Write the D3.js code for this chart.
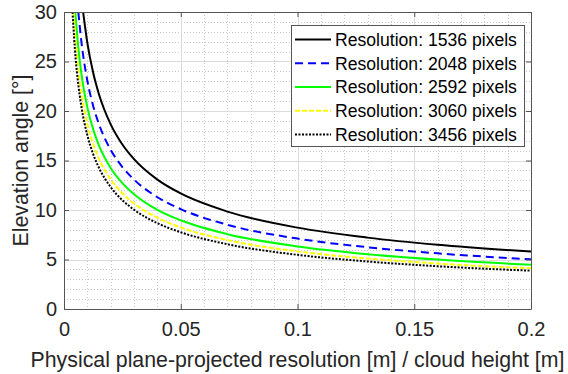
<!DOCTYPE html>
<html>
<head>
<meta charset="utf-8">
<script src="https://cdn.jsdelivr.net/npm/d3@7"></script>
<style>
  html, body { margin: 0; padding: 0; background: #fff; }
  svg { display: block; font-family: "Liberation Sans", Arial, sans-serif; }
</style>
</head>
<body>
<div id="wrapper"></div>
<script>
// 1. Data

const xTicks = [0, 0.05, 0.1, 0.15, 0.2];
const yTicks = [0, 5, 10, 15, 20, 25, 30];

const x1536 = [0.00818, 0.01, 0.0125, 0.015, 0.02, 0.025, 0.03, 0.04, 0.05, 0.07, 0.1, 0.13, 0.16, 0.2];
const el1536 = [30, 26.89, 23.86, 21.67, 18.65, 16.62, 15.14, 13.07, 11.67, 9.84, 8.22, 7.21, 6.49, 5.8];

const x2048 = [0.00614, 0.0075, 0.01, 0.0125, 0.015, 0.02, 0.025, 0.03, 0.04, 0.05, 0.07, 0.1, 0.13, 0.16, 0.2];
const el2048 = [30, 26.89, 23.06, 20.51, 18.65, 16.08, 14.34, 13.07, 11.29, 10.09, 8.51, 7.11, 6.24, 5.62, 5.02];

const x2592 = [0.00485, 0.006, 0.0075, 0.01, 0.0125, 0.015, 0.02, 0.025, 0.03, 0.04, 0.05, 0.07, 0.1, 0.13, 0.16, 0.2];
const el2592 = [30, 26.71, 23.7, 20.37, 18.14, 16.51, 14.25, 12.72, 11.6, 10.02, 8.96, 7.56, 6.32, 5.54, 4.99, 4.46];

const x3060 = [0.00411, 0.005, 0.006, 0.0075, 0.01, 0.0125, 0.015, 0.02, 0.025, 0.03, 0.04, 0.05, 0.07, 0.1, 0.13, 0.16, 0.2];
const el3060 = [30, 26.95, 24.44, 21.72, 18.69, 16.65, 15.17, 13.1, 11.69, 10.66, 9.22, 8.24, 6.96, 5.82, 5.1, 4.59, 4.11];

const x3456 = [0.00364, 0.005, 0.006, 0.0075, 0.01, 0.0125, 0.015, 0.02, 0.025, 0.03, 0.04, 0.05, 0.07, 0.1, 0.13, 0.16, 0.2];
const el3456 = [30, 25.24, 22.91, 20.37, 17.55, 15.64, 14.25, 12.31, 10.99, 10.02, 8.67, 7.75, 6.54, 5.47, 4.8, 4.32, 3.87];

const seriesNames = [
  'Resolution: 1536 pixels',
  'Resolution: 2048 pixels',
  'Resolution: 2592 pixels',
  'Resolution: 3060 pixels',
  'Resolution: 3456 pixels',
];

const series = [
  { name: seriesNames[0], xs: x1536, ys: el1536, color: '#000000', width: 2, dash: null },
  { name: seriesNames[1], xs: x2048, ys: el2048, color: '#0000ff', width: 2, dash: '8,5' },
  { name: seriesNames[2], xs: x2592, ys: el2592, color: '#00ff00', width: 2, dash: null },
  { name: seriesNames[3], xs: x3060, ys: el3060, color: '#ffff00', width: 2, dash: '5,2' },
  { name: seriesNames[4], xs: x3456, ys: el3456, color: '#000000', width: 2, dash: '2,1.5' },
];

// 2. Dimensions

const dimensions = {
  width: 568,
  height: 374,
  margin: { top: 12, right: 37, bottom: 65, left: 64 },
};
dimensions.boundedWidth = dimensions.width - dimensions.margin.left - dimensions.margin.right;
dimensions.boundedHeight = dimensions.height - dimensions.margin.top - dimensions.margin.bottom;

const axisColor = '#555555';
const textColor = '#262626';

// 3. Canvas

const wrapper = d3.select('#wrapper')
  .append('svg')
  .attr('width', dimensions.width)
  .attr('height', dimensions.height);

const bounds = wrapper.append('g')
  .attr('transform', `translate(${dimensions.margin.left}, ${dimensions.margin.top})`);

bounds.append('defs').append('clipPath')
  .attr('id', 'bounds-clip-path')
  .append('rect')
  .attr('width', dimensions.boundedWidth)
  .attr('height', dimensions.boundedHeight);

// 4. Scales

const xScale = d3.scaleLinear().domain([0, 0.2]).range([0, dimensions.boundedWidth]);
const yScale = d3.scaleLinear().domain([0, 30]).range([dimensions.boundedHeight, 0]);

// 5. Grid

const xMinor = d3.range(0, 0.2001, 0.01).filter((v) => Math.abs(v / 0.05 - Math.round(v / 0.05)) > 1e-6);
const yMinor = d3.range(0, 31, 1).filter((v) => v % 5 !== 0);

const grid = bounds.append('g').attr('class', 'grid');
grid.selectAll('.x-minor').data(xMinor).join('line')
  .attr('x1', (d) => Math.round(xScale(d)) + 0.5).attr('x2', (d) => Math.round(xScale(d)) + 0.5)
  .attr('y1', 0).attr('y2', dimensions.boundedHeight)
  .attr('stroke', '#c8c8c8').attr('stroke-width', 1).attr('stroke-dasharray', '1,2');
grid.selectAll('.y-minor').data(yMinor).join('line')
  .attr('y1', (d) => Math.round(yScale(d)) + 0.5).attr('y2', (d) => Math.round(yScale(d)) + 0.5)
  .attr('x1', 0).attr('x2', dimensions.boundedWidth)
  .attr('stroke', '#c8c8c8').attr('stroke-width', 1).attr('stroke-dasharray', '1,2');
grid.selectAll('.x-major').data(xTicks).join('line')
  .attr('x1', (d) => Math.round(xScale(d)) + 0.5).attr('x2', (d) => Math.round(xScale(d)) + 0.5)
  .attr('y1', 0).attr('y2', dimensions.boundedHeight)
  .attr('stroke', '#dcdcdc').attr('stroke-width', 1);
grid.selectAll('.y-major').data(yTicks).join('line')
  .attr('y1', (d) => Math.round(yScale(d)) + 0.5).attr('y2', (d) => Math.round(yScale(d)) + 0.5)
  .attr('x1', 0).attr('x2', dimensions.boundedWidth)
  .attr('stroke', '#dcdcdc').attr('stroke-width', 1);

// 6. Lines

const clip = bounds.append('g').attr('clip-path', 'url(#bounds-clip-path)');

series.forEach((s) => {
  const points = s.xs.map((x, i) => [x, s.ys[i]]);
  const lineGenerator = d3.line()
    .x((d) => xScale(d[0]))
    .y((d) => yScale(d[1]))
    .curve(d3.curveMonotoneX);
  clip.append('path')
    .attr('d', lineGenerator(points))
    .attr('fill', 'none')
    .attr('stroke', s.color)
    .attr('stroke-width', s.width)
    .attr('stroke-dasharray', s.dash);
});

// 7. Axes

const fmt = d3.format('~g');

const xAxis = bounds.append('g')
  .attr('transform', `translate(0, ${dimensions.boundedHeight})`)
  .call(d3.axisBottom(xScale).tickValues(xTicks).tickFormat(fmt).tickSizeInner(-5).tickSizeOuter(0).tickPadding(13));
const xAxisTop = bounds.append('g')
  .call(d3.axisTop(xScale).tickValues(xTicks).tickFormat('').tickSizeInner(-5).tickSizeOuter(0));
const yAxis = bounds.append('g')
  .call(d3.axisLeft(yScale).tickValues(yTicks).tickFormat(fmt).tickSizeInner(-5).tickSizeOuter(0).tickPadding(7));
const yAxisRight = bounds.append('g')
  .attr('transform', `translate(${dimensions.boundedWidth}, 0)`)
  .call(d3.axisRight(yScale).tickValues(yTicks).tickFormat('').tickSizeInner(-5).tickSizeOuter(0));

[xAxis, xAxisTop, yAxis, yAxisRight].forEach((a) => {
  a.selectAll('.domain').attr('stroke', axisColor);
  a.selectAll('.tick line').attr('stroke', axisColor);
  a.selectAll('.tick text')
    .attr('fill', textColor)
    .style('font-size', '20px')
    .style('font-family', '"Liberation Sans", Arial, sans-serif');
});

xAxis.append('text')
  .attr('x', dimensions.boundedWidth / 2)
  .attr('y', 58)
  .attr('text-anchor', 'middle')
  .attr('fill', textColor)
  .style('font-size', '21.3px')
  .text('Physical plane-projected resolution [m] / cloud height [m]');

yAxis.append('text')
  .attr('transform', `translate(${-36}, ${dimensions.boundedHeight / 2}) rotate(-90)`)
  .attr('text-anchor', 'middle')
  .attr('fill', textColor)
  .style('font-size', '21.3px')
  .text('Elevation angle [°]');

// 8. Legend

const legendBox = { x: 291, y: 25, w: 233, h: 121 };
const legend = wrapper.append('g');
legend.append('rect')
  .attr('x', legendBox.x + 0.5).attr('y', legendBox.y + 0.5)
  .attr('width', legendBox.w).attr('height', legendBox.h)
  .attr('fill', '#fff').attr('stroke', axisColor).attr('stroke-width', 1);

series.forEach((s, i) => {
  const cy = 39.6 + i * 23.7;
  legend.append('line')
    .attr('x1', 295).attr('x2', 331)
    .attr('y1', cy).attr('y2', cy)
    .attr('stroke', s.color)
    .attr('stroke-width', s.width)
    .attr('stroke-dasharray', s.dash);
  legend.append('text')
    .attr('x', 335)
    .attr('y', cy + 6.3)
    .attr('fill', '#000')
    .style('font-size', '17.6px')
    .text(s.name);
});
</script>
</body>
</html>
